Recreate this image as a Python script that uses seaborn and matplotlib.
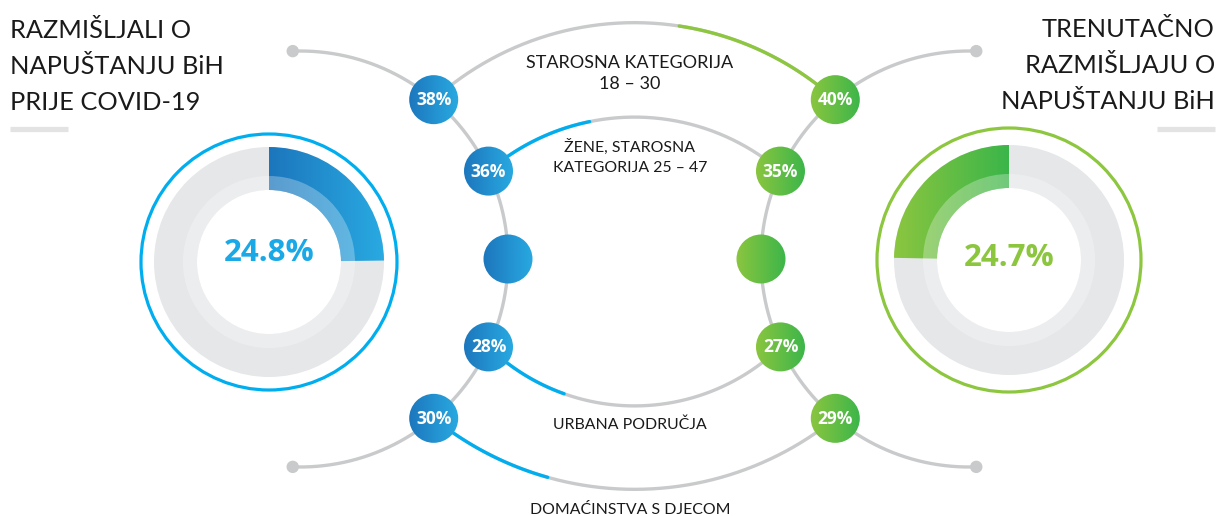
import numpy as np
import matplotlib
matplotlib.use("Agg")
import matplotlib.pyplot as plt
import seaborn as sns
from matplotlib.patches import Wedge, Circle

# ---------------- data ----------------
before_total = 24.8
now_total = 24.7
title_before = ["RAZMIŠLJALI O", "NAPUŠTANJU BiH", "PRIJE COVID-19"]
title_now = ["TRENUTAČNO", "RAZMIŠLJAJU O", "NAPUŠTANJU BiH"]
categories = [["STAROSNA KATEGORIJA", "18 – 30"],
              ["ŽENE, STAROSNA", "KATEGORIJA 25 – 47"],
              ["URBANA PODRUČJA"],
              ["DOMAĆINSTVA S DJECOM"]]
before_values = [38, 36, 28, 30]
now_values = [40, 35, 27, 29]

# ---------------- style ----------------
sns.set_theme(style="white")
FONT = ["Lato", "DejaVu Sans"]
NUMFONT = ["Open Sans", "DejaVu Sans"]
plt.rcParams["font.family"] = FONT

BLUE0, BLUE1 = "#1c75bc", "#29abe2"
GREEN0, GREEN1 = "#8dc63f", "#39b54a"
LINE_BLUE, LINE_GREEN = "#00aeef", "#8dc63f"
GRAY_LINE = "#c9cacb"
RING_GRAY = "#e6e7e8"
TXT = "#1a1a1a"

W, H = 1218, 516
fig = plt.figure(figsize=(W / 100, H / 100), dpi=100)
ax = fig.add_axes([0, 0, 1, 1])
ax.set_xlim(0, W)
ax.set_ylim(H, 0)
ax.axis("off")


def gradient_patch(patch, c0, c1, x0, x1, z):
    patch.set_facecolor("none")
    patch.set_edgecolor("none")
    ax.add_patch(patch)
    cmap = sns.blend_palette([c0, c1], n_colors=256, as_cmap=True)
    grad = np.linspace(0, 1, 256).reshape(1, -1)
    bb = patch.get_path().get_extents(patch.get_patch_transform())
    im = ax.imshow(grad, cmap=cmap, extent=[x0 - 2, x1 + 2, bb.y1 + 3, bb.y0 - 3],
                   aspect="auto", zorder=z, interpolation="bilinear")
    im.set_clip_path(patch)
    return im


# ---------------- donuts ----------------
def donut(center, value, direction, c0, c1, outline, outline_r, text_color, text_dy):
    cx, cy = center
    r_out, r_mid, r_in = 115, 86, 72
    ax.add_patch(Wedge(center, r_out, 0, 360, width=r_out - r_in,
                       facecolor=RING_GRAY, edgecolor="none", zorder=2))
    span = 360 * value / 100
    if direction > 0:
        t1, t2 = -90, -90 + span
        x0, x1 = cx, cx + r_out
    else:
        t1, t2 = -90 - span, -90
        x0, x1 = cx - r_out, cx
    w = Wedge(center, r_out, t1, t2, width=r_out - r_in)
    gradient_patch(w, c0, c1, x0, x1, 3)
    # lighter inner band
    ax.add_patch(Wedge(center, r_mid, 0, 360, width=r_mid - r_in,
                       facecolor="white", edgecolor="none", alpha=0.28, zorder=4))
    ax.add_patch(Circle(center, outline_r, fill=False, edgecolor=outline,
                        lw=2.3, zorder=2))
    ax.text(cx, cy + text_dy, f"{value}%", ha="center", va="center",
            fontsize=22.5, fontweight="bold", color=text_color, zorder=6,
            family=NUMFONT)


donut((269, 262), before_total, +1, BLUE0, BLUE1, LINE_BLUE, 128, "#1aa9e6", -9)
donut((1009, 260), now_total, -1, GREEN0, GREEN1, LINE_GREEN, 132, "#8cc63f", -2)

# ---------------- titles ----------------
for i, line in enumerate(title_before):
    ax.text(10, 38 + 36 * i, line, ha="left", va="baseline",
            fontsize=18.3, color=TXT)
for i, line in enumerate(title_now):
    ax.text(1215, 37 + 36 * i, line, ha="right", va="baseline",
            fontsize=18.3, color=TXT)
ax.plot([10, 68], [128.5, 128.5], color="#e3e3e3", lw=3.8, solid_capstyle="butt")
ax.plot([1157, 1215], [128.5, 128.5], color="#e3e3e3", lw=3.8, solid_capstyle="butt")

# ---------------- big vertical arcs ----------------
LC = (300, 259)   # left circle center
RC = (969, 259)   # right circle center
R_BIG = 208
t = np.radians(np.linspace(-92, 92, 300))
ax.plot(LC[0] + R_BIG * np.cos(t), LC[1] + R_BIG * np.sin(t),
        color=GRAY_LINE, lw=2.4, zorder=1, solid_capstyle="round")
ax.plot(RC[0] - R_BIG * np.cos(t), RC[1] + R_BIG * np.sin(t),
        color=GRAY_LINE, lw=2.4, zorder=1, solid_capstyle="round")
for s in (-1, 1):
    a = np.radians(92 * s)
    ax.add_patch(Circle((LC[0] + R_BIG * np.cos(a), LC[1] + R_BIG * np.sin(a)), 5.5,
                        color=GRAY_LINE, zorder=1))
    ax.add_patch(Circle((RC[0] - R_BIG * np.cos(a), RC[1] + R_BIG * np.sin(a)), 5.5,
                        color=GRAY_LINE, zorder=1))

node_angles = [-50, -25, 25, 50]
left_nodes = [(LC[0] + R_BIG * np.cos(np.radians(a)), LC[1] + R_BIG * np.sin(np.radians(a)))
              for a in node_angles]
right_nodes = [(RC[0] - R_BIG * np.cos(np.radians(a)), RC[1] + R_BIG * np.sin(np.radians(a)))
               for a in node_angles]

# ---------------- horizontal arcs ----------------
sagitta = [-77, -54, 59, 71]   # negative = bulge up
label_base = [[68, 89], [152, 172], [429], [514]]
label_size = [13, 11.4, 11.4, 11.4]
for i in range(4):
    (xl, yl), (xr, yr) = left_nodes[i], right_nodes[i]
    y = (yl + yr) / 2
    h = (xr - xl) / 2
    s = abs(sagitta[i])
    R = (h * h + s * s) / (2 * s)
    phi = np.degrees(np.arcsin(h / R))
    xm = (xl + xr) / 2
    if sagitta[i] < 0:
        cy = y - s + R
        th_l, th_r = -90 - phi, -90 + phi
    else:
        cy = y + s - R
        th_l, th_r = 90 + phi, 90 - phi
    u = np.linspace(0, 1, 300)
    th = np.radians(th_l + u * (th_r - th_l))
    px, py = xm + R * np.cos(th), cy + R * np.sin(th)
    ax.plot(px, py, color=GRAY_LINE, lw=2.4, zorder=2)
    bv, nv = before_values[i], now_values[i]
    if bv >= nv:
        m = u <= bv / 100
        col = LINE_BLUE
    else:
        m = u >= 1 - nv / 100
        col = LINE_GREEN
    ax.plot(px[m], py[m], color=col, lw=2.4, zorder=3)
    for j, line in enumerate(categories[i]):
        ax.text(630, label_base[i][j], line, ha="center", va="baseline",
                fontsize=label_size[i], color=TXT, zorder=6)

# ---------------- nodes ----------------
NR = 24.5
def node(c, c0, c1, label):
    gradient_patch(Circle(c, NR), c0, c1, c[0] - NR, c[0] + NR, 5)
    if label:
        ax.text(c[0], c[1] + 0.5, label, ha="center", va="center", fontsize=12.5,
                fontweight="bold", color="white", zorder=6, family=NUMFONT)

for (c, v) in zip(left_nodes, before_values):
    node(c, BLUE0, BLUE1, f"{v}%")
for (c, v) in zip(right_nodes, now_values):
    node(c, GREEN0, GREEN1, f"{v}%")
node((LC[0] + R_BIG, LC[1]), BLUE0, BLUE1, None)
node((RC[0] - R_BIG, RC[1]), GREEN0, GREEN1, None)

ax.set_xlim(0, W)
ax.set_ylim(H, 0)
fig.savefig("out.png", dpi=100, facecolor="white")
